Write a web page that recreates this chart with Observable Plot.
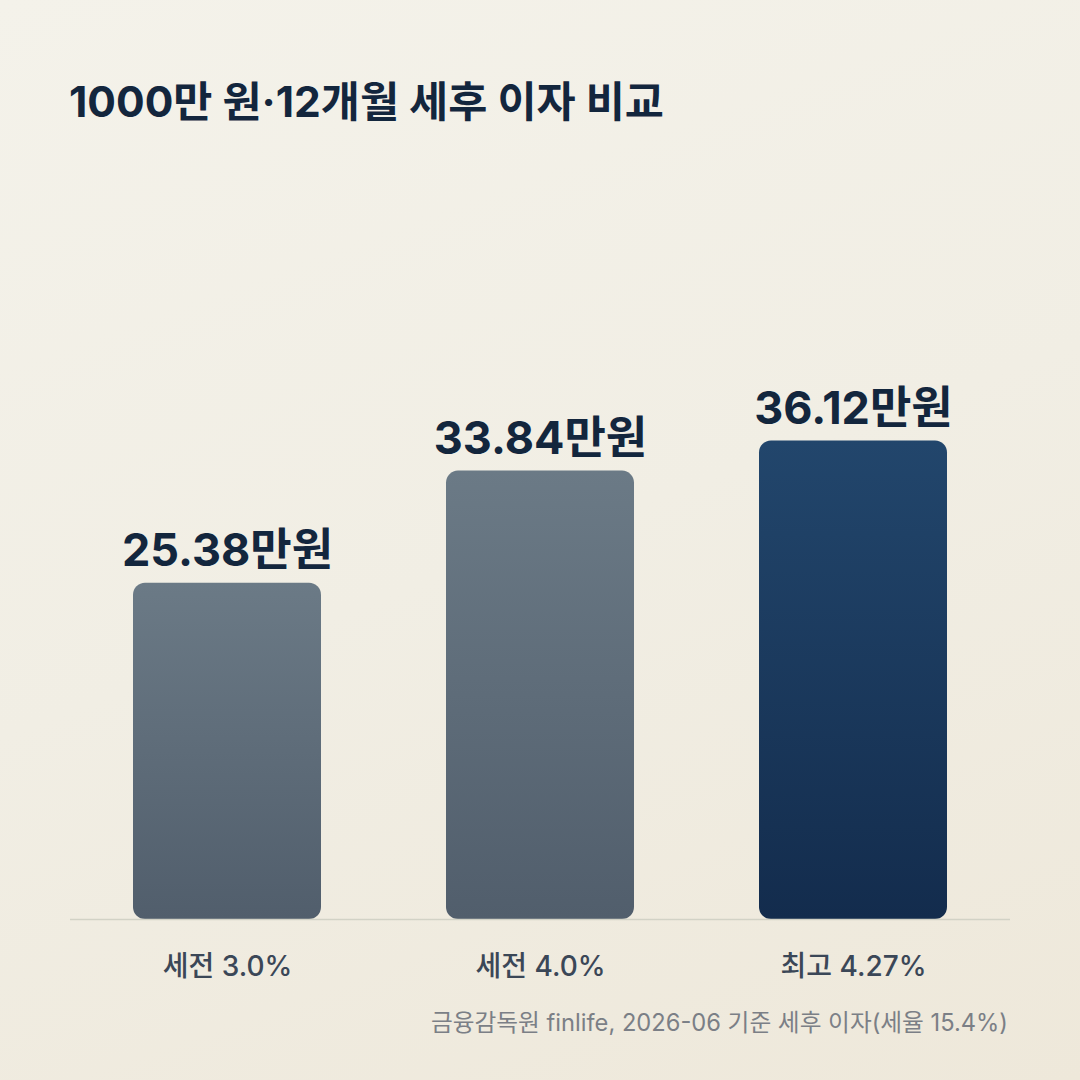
<!DOCTYPE html>
<html><head><meta charset="utf-8">
<script src="https://cdn.jsdelivr.net/npm/d3@7"></script>
<script src="https://cdn.jsdelivr.net/npm/@observablehq/plot@0.6"></script>
<style>
html,body{margin:0;padding:0;}
#page{position:relative;width:1080px;height:1080px;overflow:hidden;
  background:linear-gradient(160deg,#f4f2ea 0%,#f1eee4 50%,#eee8da 100%);
  font-family:Inter,"Noto Sans CJK KR","Noto Sans",sans-serif;}
#title{position:absolute;left:69px;top:76px;font-size:42.5px;font-weight:700;color:#13263d;letter-spacing:0;margin:0;line-height:1.2;}
#chart{position:absolute;left:0;top:160px;}
#caption{position:absolute;right:72px;top:1009px;font-size:23.7px;color:#7b7f86;line-height:1.2;}
</style></head>
<body><div id="page">
<h1 id="title">1000만 원·12개월 세후 이자 비교</h1>
<div id="chart"></div>
<div id="caption">금융감독원 finlife, 2026-06 기준 세후 이자(세율 15.4%)</div>
</div>
<script>
const categories = ["세전 3.0%", "세전 4.0%", "최고 4.27%"];
const interest = [25.38, 33.84, 36.12];
const valueLabels = ["25.38만원", "33.84만원", "36.12만원"];
const highlight = [false, false, true];

const data = categories.map((c, i) => ({cat: c, v: interest[i], label: valueLabels[i], hi: highlight[i]}));

const plot = Plot.plot({
  width: 1080,
  height: 840,
  marginLeft: 70,
  marginRight: 70,
  marginTop: 229,
  marginBottom: 81,
  style: {background: "transparent", fontFamily: "Inter, 'Noto Sans CJK KR', sans-serif", overflow: "visible"},
  x: {domain: categories, paddingInner: 0.4, paddingOuter: 0.2, label: null},
  y: {domain: [0, 40], axis: null},
  marks: [
    Plot.barY(data, {x: "cat", y: "v", fill: d => d.hi ? "url(#gradHi)" : "url(#gradGrey)", rx: 12}),
    Plot.ruleY([0], {stroke: "#d2d2c6", strokeWidth: 1.5}),
    Plot.text(data, {x: "cat", y: "v", text: "label", lineAnchor: "bottom", dy: -17, fontSize: 45, fontWeight: 700, fill: "#13263d"}),
    Plot.axisX({tickSize: 0, tickPadding: 37, fontSize: 28, fontWeight: 500, color: "#3b4757", label: null})
  ]
});

const svg = d3.select(plot);
const defs = svg.insert("defs", ":first-child");
const g1 = defs.append("linearGradient").attr("id", "gradGrey").attr("x1", 0).attr("y1", 0).attr("x2", 0).attr("y2", 1);
g1.append("stop").attr("offset", "0%").attr("stop-color", "#6b7a86");
g1.append("stop").attr("offset", "100%").attr("stop-color", "#515e6c");
const g2 = defs.append("linearGradient").attr("id", "gradHi").attr("x1", 0).attr("y1", 0).attr("x2", 0).attr("y2", 1);
g2.append("stop").attr("offset", "0%").attr("stop-color", "#22466c");
g2.append("stop").attr("offset", "100%").attr("stop-color", "#132c4d");
svg.selectAll("g[aria-label='x-axis tick label']").attr("font-weight", 500);

document.getElementById("chart").appendChild(plot);
</script>
</body></html>
